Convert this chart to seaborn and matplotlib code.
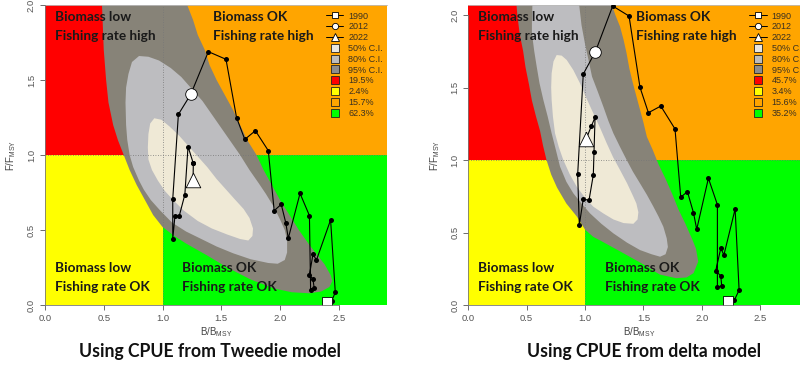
import matplotlib
matplotlib.use("Agg")
import matplotlib.pyplot as plt
from matplotlib.lines import Line2D
from matplotlib.patches import Rectangle
import seaborn as sns
import pandas as pd

sns.set_style("ticks")
plt.rcParams['font.family'] = ['Liberation Sans', 'DejaVu Sans']
plt.rcParams['mathtext.fontset'] = 'custom'
plt.rcParams['mathtext.rm'] = 'Liberation Sans'

# ---------------- data ----------------
years = list(range(1990, 2023))

# Tweedie model trajectory (B/Bmsy, F/Fmsy)
tw_b = [2.40, 2.44, 2.47, 2.43, 2.31, 2.28, 2.25, 2.28, 2.29, 2.26, 2.25, 2.17, 2.07,
        2.05, 2.01, 1.95, 1.90, 1.79, 1.70, 1.63, 1.54, 1.39, 1.24, 1.135, 1.087, 1.087,
        1.106, 1.143, 1.19, 1.217, 1.262, 1.262, 1.26]
tw_f = [0.022, 0.029, 0.084, 0.567, 0.30, 0.338, 0.20, 0.171, 0.116, 0.10, 0.596, 0.744,
        0.444, 0.544, 0.671, 0.629, 1.029, 1.162, 1.104, 1.249, 1.638, 1.689, 1.404, 1.271,
        0.707, 0.44, 0.596, 0.596, 0.736, 1.056, 0.944, 0.944, 0.835]

# delta model trajectory
de_b = [2.229, 2.28, 2.32, 2.286, 2.19, 2.163, 2.12, 2.163, 2.171, 2.134, 2.134, 2.057,
        1.957, 1.929, 1.877, 1.82, 1.771, 1.649, 1.543, 1.471, 1.377, 1.237, 1.089, 0.985,
        0.937, 0.951, 0.985, 1.034, 1.071, 1.077, 1.086, 1.054, 1.009]
de_f = [0.028, 0.034, 0.103, 0.662, 0.345, 0.391, 0.237, 0.20, 0.133, 0.122, 0.692, 0.874,
        0.522, 0.637, 0.782, 0.743, 1.214, 1.372, 1.326, 1.501, 1.993, 2.062, 1.747, 1.593,
        0.901, 0.552, 0.731, 0.722, 0.897, 1.057, 1.294, 1.234, 1.143]

# Credible-region outlines (B, F)
tw_ci95_b = [0.48, 0.49, 0.50, 0.52, 0.54, 0.58, 0.62, 0.67, 0.72, 0.78, 0.85, 0.92, 1.00, 1.10,
             1.20, 1.38, 1.55, 1.75, 1.95, 2.10, 2.25, 2.35, 2.42, 2.445, 2.43, 2.38, 2.32, 2.25,
             2.16, 2.08, 2.00, 1.93, 1.86, 1.80, 1.72, 1.66, 1.60, 1.53, 1.46, 1.40, 1.36, 1.30,
             1.26, 1.21, 1.19]
tw_ci95_f = [2.10, 1.90, 1.70, 1.50, 1.35, 1.20, 1.10, 1.00, 0.90, 0.80, 0.70, 0.60, 0.52, 0.46,
             0.41, 0.33, 0.25, 0.17, 0.11, 0.085, 0.078, 0.09, 0.12, 0.16, 0.20, 0.27, 0.33, 0.40,
             0.50, 0.60, 0.70, 0.80, 0.90, 1.00, 1.10, 1.20, 1.30, 1.40, 1.50, 1.60, 1.70, 1.80,
             1.90, 2.00, 2.10]
tw_ci80_b = [0.80, 0.74, 0.71, 0.69, 0.685, 0.69, 0.70, 0.72, 0.75, 0.80, 0.84, 0.90, 0.98, 1.08,
             1.20, 1.33, 1.46, 1.60, 1.75, 1.90, 1.98, 2.04, 2.06, 2.06, 2.04, 2.00, 1.95, 1.88,
             1.82, 1.74, 1.66, 1.58, 1.50, 1.42, 1.34, 1.25, 1.16, 1.07, 0.97, 0.88]
tw_ci80_f = [1.66, 1.62, 1.54, 1.45, 1.35, 1.20, 1.10, 1.00, 0.92, 0.83, 0.77, 0.70, 0.63, 0.55,
             0.49, 0.44, 0.39, 0.345, 0.305, 0.28, 0.275, 0.30, 0.35, 0.43, 0.50, 0.57, 0.65, 0.74,
             0.81, 0.90, 1.00, 1.09, 1.18, 1.27, 1.36, 1.44, 1.52, 1.58, 1.63, 1.655]
tw_ci50_b = [0.93, 0.895, 0.88, 0.875, 0.88, 0.91, 0.96, 1.02, 1.09, 1.18, 1.30, 1.42, 1.55, 1.66,
             1.73, 1.765, 1.77, 1.74, 1.69, 1.62, 1.54, 1.46, 1.38, 1.30, 1.22, 1.14, 1.06, 0.99]
tw_ci50_f = [1.245, 1.21, 1.14, 1.05, 0.97, 0.90, 0.83, 0.76, 0.70, 0.63, 0.56, 0.51, 0.47, 0.44,
             0.43, 0.46, 0.51, 0.58, 0.64, 0.70, 0.77, 0.84, 0.92, 0.99, 1.06, 1.13, 1.19, 1.235]

de_ci95_b = [0.41, 0.42, 0.44, 0.47, 0.49, 0.52, 0.545, 0.58, 0.615, 0.64, 0.67, 0.71, 0.76, 0.84,
             0.93, 1.00, 1.07, 1.13, 1.30, 1.50, 1.64, 1.78, 1.87, 1.93, 1.97, 1.95, 1.92, 1.86,
             1.80, 1.75, 1.69, 1.63, 1.58, 1.53, 1.50, 1.47, 1.44, 1.41, 1.38, 1.355, 1.33, 1.30,
             1.26, 1.23, 1.21]
de_ci95_f = [2.10, 2.00, 1.87, 1.75, 1.64, 1.52, 1.41, 1.30, 1.20, 1.10, 1.00, 0.90, 0.81, 0.70,
             0.61, 0.52, 0.47, 0.445, 0.37, 0.28, 0.21, 0.185, 0.19, 0.22, 0.30, 0.39, 0.45, 0.56,
             0.66, 0.76, 0.87, 0.97, 1.07, 1.16, 1.26, 1.35, 1.44, 1.53, 1.63, 1.74, 1.83, 1.92,
             2.00, 2.07, 2.10]
de_ci80_b = [0.55, 0.545, 0.545, 0.565, 0.586, 0.61, 0.643, 0.68, 0.714, 0.75, 0.786, 0.84, 0.90,
             0.97, 1.043, 1.14, 1.243, 1.36, 1.471, 1.57, 1.643, 1.69, 1.71, 1.70, 1.671, 1.63,
             1.586, 1.53, 1.471, 1.41, 1.357, 1.30, 1.243, 1.20, 1.157, 1.11, 1.06, 1.03, 1.00,
             0.97, 0.95, 0.94]
de_ci80_f = [2.10, 1.95, 1.874, 1.75, 1.644, 1.53, 1.414, 1.30, 1.184, 1.07, 0.954, 0.85, 0.77,
             0.70, 0.632, 0.56, 0.494, 0.43, 0.379, 0.35, 0.333, 0.35, 0.40, 0.46, 0.54, 0.61,
             0.678, 0.76, 0.839, 0.92, 1.00, 1.09, 1.184, 1.27, 1.368, 1.47, 1.575, 1.69, 1.80,
             1.93, 2.07, 2.10]
de_ci50_b = [0.757, 0.73, 0.714, 0.71, 0.714, 0.725, 0.743, 0.775, 0.814, 0.87, 0.929, 1.00, 1.071,
             1.16, 1.243, 1.33, 1.414, 1.45, 1.457, 1.44, 1.414, 1.36, 1.30, 1.24, 1.186, 1.13,
             1.071, 1.01, 0.957, 0.90, 0.843, 0.80]
de_ci50_f = [1.724, 1.68, 1.598, 1.50, 1.414, 1.30, 1.184, 1.09, 1.00, 0.90, 0.816, 0.74, 0.678,
             0.63, 0.59, 0.565, 0.56, 0.59, 0.64, 0.70, 0.747, 0.84, 0.931, 1.02, 1.115, 1.22,
             1.322, 1.43, 1.529, 1.62, 1.69, 1.72]

tw_pct = ["19.5%", "2.4%", "15.7%", "62.3%"]
de_pct = ["45.7%", "3.4%", "15.6%", "35.2%"]
ci_labels = ["50% C.I.", "80% C.I.", "95% C.I."]
x_ticks = [0.0, 0.5, 1.0, 1.5, 2.0, 2.5]
y_ticks = [0.0, 0.5, 1.0, 1.5, 2.0]
captions = ["Using CPUE from Tweedie model", "Using CPUE from delta model"]

# ---------------- style ----------------
RED, YEL, ORA, GRN = "#ff0000", "#ffff00", "#ffa500", "#00ff00"
C95, C80, C50 = "#878378", "#bdbdc0", "#efe9d6"
TXT = "#444444"

fig = plt.figure(figsize=(8.0, 3.85), dpi=100)
W, H = 800.0, 385.0
axL = fig.add_axes([45 / W, 80 / H, 342 / W, 300 / H])
axR = fig.add_axes([468.3 / W, 80 / H, 342 / W, 300 / H])


def panel(ax, b, f, c95, c80, c50, pct, xmax, ymax):
    ax.set_xlim(0, xmax)
    ax.set_ylim(0, ymax)
    ax.add_patch(Rectangle((0, 1), 1, 5, color=RED, lw=0, zorder=0))
    ax.add_patch(Rectangle((0, 0), 1, 1, color=YEL, lw=0, zorder=0))
    ax.add_patch(Rectangle((1, 1), 5, 5, color=ORA, lw=0, zorder=0))
    ax.add_patch(Rectangle((1, 0), 5, 1, color=GRN, lw=0, zorder=0))
    ax.fill(c95[0], c95[1], color=C95, lw=0, zorder=1)
    ax.fill(c80[0], c80[1], color=C80, lw=0, zorder=1.1)
    ax.fill(c50[0], c50[1], color=C50, lw=0, zorder=1.2)
    ax.axvline(1, color="#777777", ls=(0, (1, 2)), lw=0.6, zorder=1.5)
    ax.axhline(1, color="#777777", ls=(0, (1, 2)), lw=0.6, zorder=1.5)

    df = pd.DataFrame({"year": years, "B": b, "F": f})
    sns.lineplot(data=df, x="B", y="F", sort=False, estimator=None, color="black",
                 lw=0.8, marker="o", markersize=3.6, markeredgewidth=0, ax=ax, zorder=3)
    d0 = df[df.year == 1990]
    d1 = df[df.year == 2012]
    d2 = df[df.year == 2022]
    sns.scatterplot(data=d0, x="B", y="F", marker="s", s=55, color="white",
                    edgecolor="black", linewidth=0.6, ax=ax, zorder=4)
    sns.scatterplot(data=d1, x="B", y="F", marker="o", s=70, color="white",
                    edgecolor="black", linewidth=0.6, ax=ax, zorder=4)
    sns.scatterplot(data=d2, x="B", y="F", marker="^", s=110, color="white",
                    edgecolor="black", linewidth=0.6, ax=ax, zorder=4)

    qfont = dict(family=["Lato", "DejaVu Sans"], fontweight="bold", fontsize=9.8,
                 color="#1a1a1a", zorder=5, transform=ax.transAxes, va="center", ha="left")
    ax.text(0.029, 0.960, "Biomass low", **qfont)
    ax.text(0.029, 0.898, "Fishing rate high", **qfont)
    ax.text(0.49, 0.960, "Biomass OK", **qfont)
    ax.text(0.49, 0.898, "Fishing rate high", **qfont)
    ax.text(0.029, 0.123, "Biomass low", **qfont)
    ax.text(0.029, 0.060, "Fishing rate OK", **qfont)
    ax.text(0.40, 0.123, "Biomass OK", **qfont)
    ax.text(0.40, 0.060, "Fishing rate OK", **qfont)

    handles = [
        Line2D([], [], color="black", lw=0.7, marker="s", ms=4.5, mfc="white", mec="black", mew=0.6),
        Line2D([], [], color="black", lw=0.7, marker="o", ms=4.5, mfc="white", mec="black", mew=0.6),
        Line2D([], [], color="black", lw=0.7, marker="^", ms=5.5, mfc="white", mec="black", mew=0.6),
    ]
    labels = ["1990", "2012", "2022"]
    for c, lab in zip(["#e8e6e0", "#bcbcbc", "#8c8c8c", RED, YEL, ORA, GRN],
                      ci_labels + pct):
        handles.append(Line2D([], [], ls="none", marker="s", ms=6, mfc=c, mec="#222222", mew=0.6))
        labels.append(lab)
    leg = ax.legend(handles, labels, loc="upper left", bbox_to_anchor=(0.822, 0.978),
                    frameon=False, fontsize=6.5, handlelength=1.9, handletextpad=0.55,
                    labelspacing=0.2, borderpad=0, borderaxespad=0)
    for t in leg.get_texts():
        t.set_color("#3a3020")
    leg.set_zorder(6)

    ax.set_xticks(x_ticks)
    ax.set_xticklabels([f"{v:.1f}" for v in x_ticks])
    ax.set_yticks(y_ticks)
    ax.set_yticklabels([f"{v:.1f}" for v in y_ticks], rotation=90, va="center")
    ax.tick_params(axis="both", labelsize=6.8, colors="#555555", length=3.6, width=0.6,
                   pad=3, direction="out")
    ax.set_xlabel(r"B/B$_{\mathregular{MSY}}$", fontsize=7, color=TXT)
    ax.set_ylabel(r"F/F$_{\mathregular{MSY}}$", fontsize=7, color=TXT)
    ax.xaxis.set_label_coords(0.5, -0.068)
    ax.yaxis.set_label_coords(-0.078, 0.5)
    for s in ["left", "bottom"]:
        ax.spines[s].set_color("#777777")
        ax.spines[s].set_linewidth(0.6)
        ax.spines[s].set_zorder(7)
    ax.spines["bottom"].set_bounds(0, 2.5)
    ax.spines["left"].set_bounds(0, 2.0)
    ax.spines["top"].set_visible(True)
    ax.spines["top"].set_color("#bbbbbb")
    ax.spines["top"].set_linewidth(0.6)
    ax.spines["right"].set_visible(False)


panel(axL, tw_b, tw_f, (tw_ci95_b, tw_ci95_f), (tw_ci80_b, tw_ci80_f), (tw_ci50_b, tw_ci50_f),
      tw_pct, 2.91, 2.0)
panel(axR, de_b, de_f, (de_ci95_b, de_ci95_f), (de_ci80_b, de_ci80_f), (de_ci50_b, de_ci50_f),
      de_pct, 2.93, 2.069)

cfont = dict(family=["Lato", "DejaVu Sans"], fontweight="bold", fontsize=12.7,
             color="#111111", ha="center", va="center")
fig.text(210 / W, 1 - 351 / H, captions[0], **cfont)
fig.text(644 / W, 1 - 351 / H, captions[1], **cfont)

fig.savefig("out.png", dpi=100)
